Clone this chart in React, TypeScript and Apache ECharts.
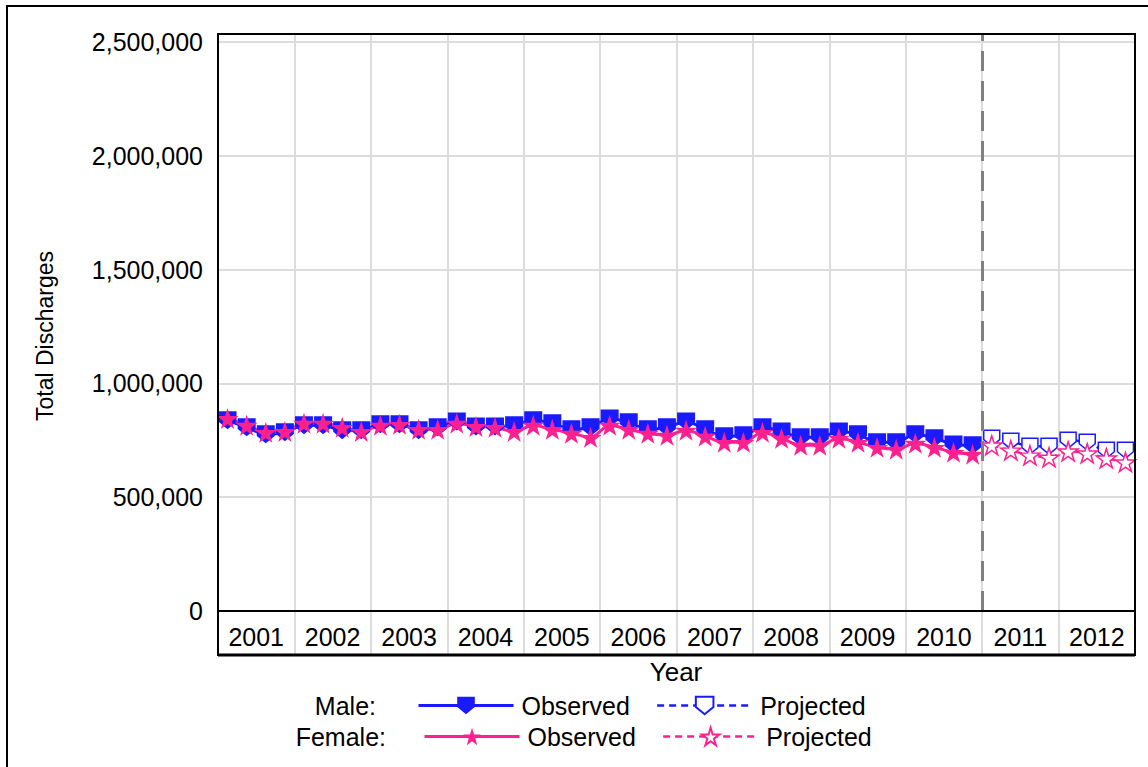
import React, { useEffect, useRef } from "react";
import * as echarts from "echarts";

const years = ["2001", "2002", "2003", "2004", "2005", "2006", "2007", "2008", "2009", "2010", "2011", "2012"];

// quarterly values, 2001 Q1 .. 2010 Q4
const maleObserved = [
  838000, 807000, 776000, 785000, 816000, 816000, 794000, 794000,
  820000, 820000, 794000, 807000, 833000, 811000, 811000, 816000,
  838000, 825000, 798000, 807000, 846000, 829000, 798000, 807000,
  833000, 798000, 768000, 772000, 807000, 789000, 763000, 763000,
  789000, 776000, 741000, 741000, 776000, 759000, 732000, 728000,
];
const femaleObserved = [
  846000, 816000, 785000, 789000, 825000, 825000, 807000, 789000,
  816000, 820000, 798000, 798000, 825000, 811000, 807000, 789000,
  816000, 798000, 781000, 763000, 816000, 798000, 781000, 772000,
  794000, 768000, 741000, 741000, 785000, 759000, 728000, 728000,
  759000, 741000, 719000, 711000, 737000, 719000, 697000, 689000,
];
// 2011 Q1 .. 2012 Q4
const maleProjected = [759000, 746000, 724000, 724000, 750000, 741000, 706000, 706000];
const femaleProjected = [728000, 706000, 684000, 675000, 702000, 693000, 671000, 654000];

const yMin = 0;
const yMax = 2535000;
const yInterval = 500000;
const projectionStart = 40; // quarter index where projection begins

const FONT = "Liberation Sans, Arial, sans-serif";
const BLUE = "#1a1aff";
const PINK = "#ff2090";
const PENT = "path://M0,0 L17,0 L17,10 L8.5,17 L0,10 Z";
const STAR = "path://M50,0 L61,35 L98,35 L68,57 L79,91 L50,70 L21,91 L32,57 L2,35 L39,35 Z";

function toPoints(values: number[], offset: number) {
  return values.map((v, i) => [offset + i + 0.5, v]);
}

export default function App() {
  const ref = useRef<HTMLDivElement>(null);
  useEffect(() => {
    if (!ref.current) return;
    const chart = echarts.init(ref.current, null, { renderer: "svg" });
    const legendCommon = {
      itemWidth: 95, itemHeight: 22, itemGap: 26, selectedMode: false,
      formatter: (n: string) => n.split(" ")[1],
      textStyle: { fontSize: 25, color: "#000", fontFamily: FONT, padding: [0, 0, 0, 3] },
      lineStyle: { width: "inherit" },
    };
    const option: any = {
      animation: false,
      backgroundColor: "#fff",
      grid: [
        { left: 218, right: 13, top: 34, bottom: 156, show: false },
        { left: 218, right: 13, top: 611, bottom: 112, show: false },
      ],
      xAxis: [
        {
          type: "value", gridIndex: 0, min: 0, max: years.length * 4, interval: 4,
          axisLabel: { show: false }, axisTick: { show: false }, axisLine: { show: false },
          splitLine: { show: true, lineStyle: { color: "#dcdcdc", width: 2 } },
        },
        {
          type: "category", gridIndex: 1, data: years, boundaryGap: true, position: "bottom",
          axisLine: { show: false }, axisTick: { show: false },
          axisLabel: { inside: true, margin: 6, fontSize: 25, color: "#000", fontFamily: FONT, interval: 0 },
          splitLine: { show: true, interval: 0, lineStyle: { color: "#dcdcdc", width: 2 } },
        },
      ],
      yAxis: [
        {
          type: "value", gridIndex: 0, min: yMin, max: yMax, interval: yInterval,
          axisLine: { show: false }, axisTick: { show: false },
          axisLabel: {
            margin: 15, fontSize: 25, color: "#000", fontFamily: FONT, showMaxLabel: false,
            formatter: (v: number) => v.toLocaleString("en-US"),
          },
          splitLine: { show: true, lineStyle: { color: "#dcdcdc", width: 2 } },
        },
        { type: "value", gridIndex: 1, min: 0, max: 1, show: false },
      ],
      legend: [
        { ...legendCommon, data: ["Male Observed", "Male Projected"], left: 412, top: 688 },
        { ...legendCommon, data: ["Female Observed", "Female Projected"], left: 418, top: 719 },
      ],
      graphic: [
        { type: "rect", z: 50, shape: { x: 7, y: 6, width: 1300, height: 900 }, style: { fill: "none", stroke: "#000", lineWidth: 2 }, silent: true },
        { type: "rect", z: 50, shape: { x: 218, y: 34, width: 917, height: 577 }, style: { fill: "none", stroke: "#000", lineWidth: 2 }, silent: true },
        { type: "rect", z: 50, shape: { x: 218, y: 611, width: 917, height: 44 }, style: { fill: "none", stroke: "#000", lineWidth: 2 }, silent: true },
        { type: "line", z: 50, shape: { x1: 218, y1: 655, x2: 1135, y2: 655 }, style: { stroke: "#000", lineWidth: 3 }, silent: true },
        { type: "text", x: 45, y: 336, rotation: Math.PI / 2, style: { text: "Total Discharges", fontSize: 23, fontFamily: FONT, fill: "#000", align: "center", verticalAlign: "middle" } },
        { type: "text", x: 676, y: 672, style: { text: "Year", fontSize: 26, fontFamily: FONT, fill: "#000", align: "center", verticalAlign: "middle" } },
        { type: "text", x: 376, y: 706, style: { text: "Male:", fontSize: 25, fontFamily: FONT, fill: "#000", align: "right", verticalAlign: "middle" } },
        { type: "text", x: 386, y: 737, style: { text: "Female:", fontSize: 25, fontFamily: FONT, fill: "#000", align: "right", verticalAlign: "middle" } },
      ],
      series: [
        {
          name: "Male Observed", type: "line", xAxisIndex: 0, yAxisIndex: 0, data: toPoints(maleObserved, 0),
          smooth: 0.3, symbol: PENT, symbolSize: [18, 18], itemStyle: { color: BLUE },
          lineStyle: { color: BLUE, width: 3 },
          markLine: {
            silent: true, symbol: "none", label: { show: false },
            lineStyle: { color: "#808080", width: 3, type: [20, 10] },
            data: [{ xAxis: projectionStart }],
          },
        },
        {
          name: "Female Observed", type: "line", xAxisIndex: 0, yAxisIndex: 0, data: toPoints(femaleObserved, 0),
          smooth: 0.3, symbol: STAR, symbolSize: [22, 21], itemStyle: { color: PINK },
          lineStyle: { color: PINK, width: 3 },
        },
        {
          name: "Male Projected", type: "line", xAxisIndex: 0, yAxisIndex: 0, data: toPoints(maleProjected, projectionStart),
          smooth: 0.3, symbol: PENT, symbolSize: [16, 16],
          itemStyle: { color: "#fff", borderColor: BLUE, borderWidth: 1.5 },
          lineStyle: { color: BLUE, width: 2.5, type: [7, 5] },
        },
        {
          name: "Female Projected", type: "line", xAxisIndex: 0, yAxisIndex: 0, data: toPoints(femaleProjected, projectionStart),
          smooth: 0.3, symbol: STAR, symbolSize: [20, 19],
          itemStyle: { color: "#fff", borderColor: PINK, borderWidth: 1.5 },
          lineStyle: { color: PINK, width: 2.5, type: [7, 5] },
        },
      ],
    };
    chart.setOption(option);
    return () => chart.dispose();
  }, []);
  return <div ref={ref} style={{ position: "absolute", left: 0, top: 0, width: 1148, height: 767 }} />;
}
